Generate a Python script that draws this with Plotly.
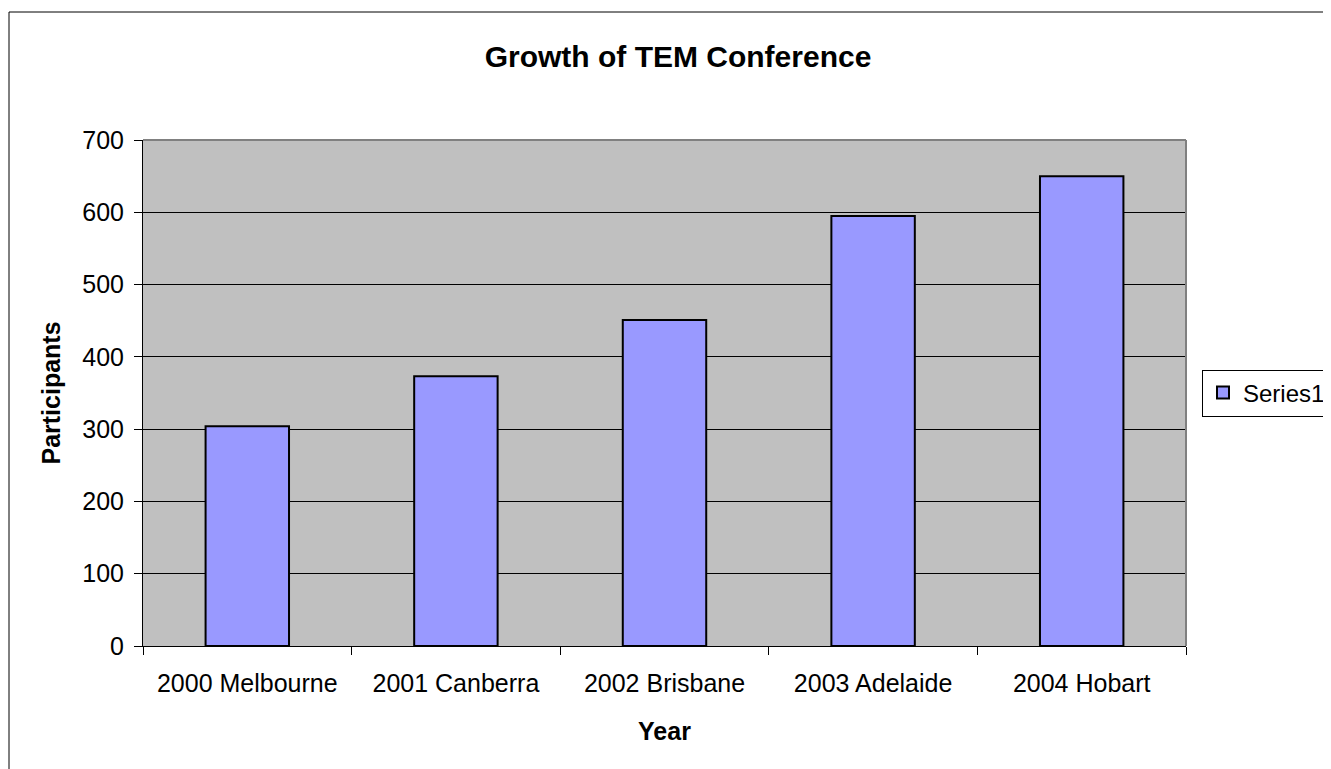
import plotly.graph_objects as go

categories = ["2000 Melbourne", "2001 Canberra", "2002 Brisbane", "2003 Adelaide", "2004 Hobart"]
participants = [304, 373, 451, 595, 650]
y_ticks = [0, 100, 200, 300, 400, 500, 600, 700]

OFF = 8  # page body margin
W, H = 1331 - OFF, 769 - OFF
L, T = 143 - OFF, 140 - OFF
pw, ph = 1043, 506
R = W - L - pw
B = H - T - ph

def px(x):
    return (x - OFF - L) / pw

def py(y):
    return (T + ph - (y - OFF)) / ph

fig = go.Figure()
fig.add_trace(go.Bar(
    x=categories, y=participants, name="Series1",
    marker=dict(color="#9999FF", line=dict(color="black", width=2)),
))

font = "Liberation Sans, Arial, sans-serif"
fig.update_layout(
    width=W, height=H,
    margin=dict(l=L, r=R, t=T, b=B, autoexpand=False),
    paper_bgcolor="white", plot_bgcolor="#C0C0C0",
    bargap=0.6,
    font=dict(family=font, size=25, color="black"),
    title=dict(text="<b>Growth of TEM Conference</b>", xref="paper", x=px(678), xanchor="center",
               y=1 - (56 - OFF) / H, yanchor="middle", font=dict(size=30, family=font)),
    showlegend=True,
    legend=dict(x=px(1202), xanchor="left", y=0.5, yanchor="middle",
                bordercolor="black", borderwidth=1, bgcolor="white",
                font=dict(size=24, family=font), itemwidth=30),
    xaxis=dict(title=dict(text="<b>Year</b>", standoff=26, font=dict(size=25)),
               showline=True, linecolor="black", linewidth=1, mirror=False,
               ticks="outside", ticklen=8, tickcolor="black", tickson="boundaries",
               ticklabelstandoff=15,
               showgrid=False, tickfont=dict(size=25)),
    yaxis=dict(title=dict(text="<b>Participants</b>", standoff=14, font=dict(size=25)),
               range=[0, 700], tickvals=y_ticks,
               showline=True, linecolor="black", linewidth=1,
               ticks="outside", ticklen=8, tickcolor="black",
               ticklabelstandoff=5,
               showgrid=True, gridcolor="black", gridwidth=1,
               zeroline=False, tickfont=dict(size=25)),
)

# Plot area gray border on top and right (Excel style)
fig.add_shape(type="line", xref="paper", yref="paper", x0=0, x1=1, y0=1, y1=1,
              line=dict(color="#808080", width=2))
fig.add_shape(type="line", xref="paper", yref="paper", x0=1, x1=1, y0=0, y1=1,
              line=dict(color="#808080", width=2))
# Chart-area frame (left and top visible)
fig.add_shape(type="rect", xref="paper", yref="paper",
              x0=px(9), x1=px(1345), y0=py(780), y1=py(12),
              line=dict(color="black", width=1), fillcolor="rgba(0,0,0,0)", layer="below")

fig.write_html("out.html")
